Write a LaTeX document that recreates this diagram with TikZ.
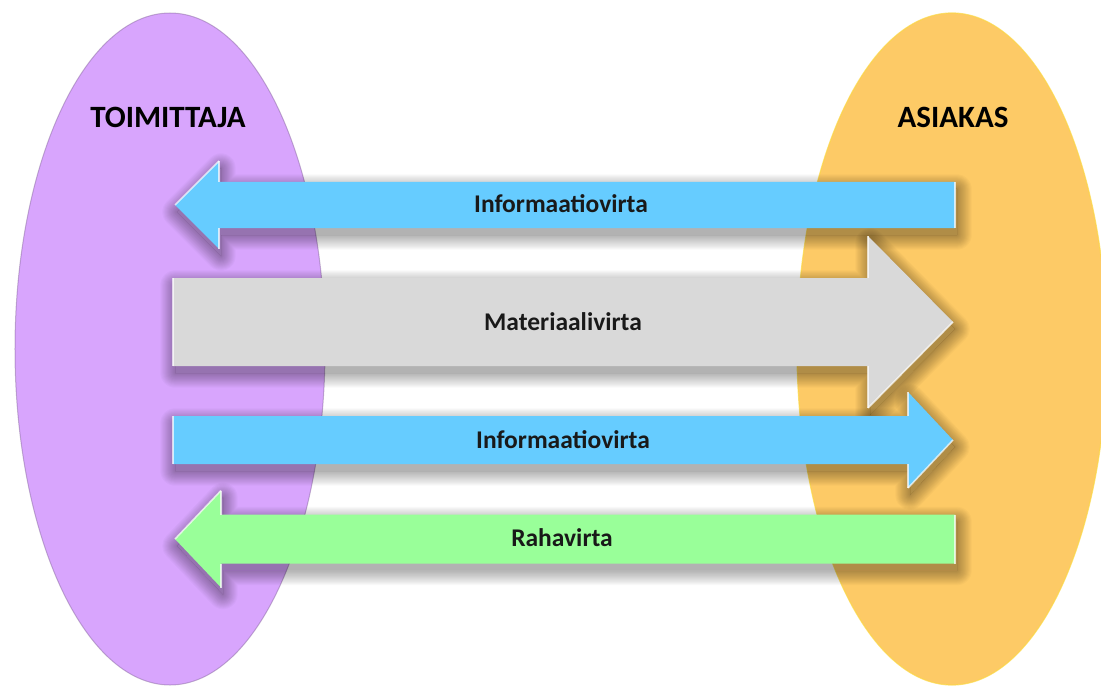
\documentclass[tikz,border=0pt]{standalone}
\usepackage{fontspec}
\setmainfont{Carlito}
\usetikzlibrary{shapes.geometric,calc}

\definecolor{supplierfill}{HTML}{D8A5FD}
\definecolor{customerfill}{HTML}{FDCA66}
\definecolor{infofill}{HTML}{66CCFF}
\definecolor{materialfill}{HTML}{D9D9D9}
\definecolor{moneyfill}{HTML}{99FF99}

% Block arrow along a horizontal line, with a soft drop shadow.
% #1 fill colour, #2 tail, #3 tip, #4 half shaft width, #5 half head width,
% #6 head length (negative when the arrow points left)
\newcommand{\flowarrow}[6]{%
  \coordinate (hb) at ($(#3)-(#6,0)$);
  \def\arrowoutline##1{($(#2)+(0,-#4)+(##1)$) -- ($(hb)+(0,-#4)+(##1)$)
    -- ($(hb)+(0,-#5)+(##1)$) -- ($(#3)+(##1)$) -- ($(hb)+(0,#5)+(##1)$)
    -- ($(hb)+(0,#4)+(##1)$) -- ($(#2)+(0,#4)+(##1)$) -- cycle}%
  % shadow: solid core plus a feathered rim outside it
  \begin{scope}[even odd rule]
    \clip (-50,-50) rectangle (1200,800) \arrowoutline{2,7};
    \foreach \r in {1,2,...,14} {%
      \path[shadowlayer, line width={2*\r*1.05bp}] \arrowoutline{2,7};
    }
  \end{scope}
  \fill[black, fill opacity=0.3] \arrowoutline{2,7};
  \fill[fill=#1] \arrowoutline{0,0};
  % bevel highlights on the back edges and one flank of the head
  \draw[edgelight] ($(#2)+(0,-#4)$) -- ($(#2)+(0,#4)$);
  \draw[edgelight] ($(hb)+(0,-#4)$) -- ($(hb)+(0,-#5)$);
  \draw[edgelight] ($(hb)+(0,#4)$) -- ($(hb)+(0,#5)$);
  \draw[edgelight] (#3) -- ($(hb)+(0,{#5*sign(#6)})$);
}

\begin{document}
\begin{tikzpicture}[x=1bp, y=-1bp,
  party/.style={ellipse, inner sep=0pt, outer sep=0pt,
    minimum width=310bp, minimum height=672bp},
  title/.style={font=\fontsize{31bp}{36bp}\selectfont\bfseries, text=black},
  flowlabel/.style={font=\fontsize{25.5bp}{30bp}\selectfont\bfseries, text=black!90},
  shadowlayer/.style={draw=black, draw opacity=0.025, line join=round},
  edgelight/.style={draw=white, draw opacity=0.7, line width=1.6bp}]

\useasboundingbox (0,0) rectangle (1101,686);

% the two parties
\node[party, fill=supplierfill, draw=supplierfill!60!black, draw opacity=0.45,
  line width=1bp] (supplier) at (170,349) {};
\node[party, fill=customerfill, draw=yellow!35!customerfill, draw opacity=0.7,
  line width=1.2bp] (customer) at (952,349) {};

\node[title] (suppliername) at (168,117) {TOIMITTAJA};
\node[title] (customername) at (953,117) {ASIAKAS};

% arrow end points
\coordinate (infoback-tail) at (955,205);
\coordinate (infoback-tip) at (175,205);
\coordinate (material-tail) at (173,322);
\coordinate (material-tip) at (953,322);
\coordinate (infofwd-tail) at (173,440);
\coordinate (infofwd-tip) at (953,440);
\coordinate (money-tail) at (955,539);
\coordinate (money-tip) at (175,539);

% the flows
\flowarrow{infofill}{infoback-tail}{infoback-tip}{23}{44}{-44}
\flowarrow{materialfill}{material-tail}{material-tip}{44}{86}{85}
\flowarrow{infofill}{infofwd-tail}{infofwd-tip}{24}{48}{45}
\flowarrow{moneyfill}{money-tail}{money-tip}{24.5}{48.5}{-46}

% flow names
\node[flowlabel] (infobacklabel) at ($(infoback-tail)!0.5!(infoback-tip)+(-4,-1)$) {Informaatiovirta};
\node[flowlabel] (materiallabel) at ($(material-tail)!0.5!(material-tip)$) {Materiaalivirta};
\node[flowlabel] (infofwdlabel) at ($(infofwd-tail)!0.5!(infofwd-tip)$) {Informaatiovirta};
\node[flowlabel] (moneylabel) at ($(money-tail)!0.5!(money-tip)+(-3,-1)$) {Rahavirta};
\end{tikzpicture}
\end{document}
